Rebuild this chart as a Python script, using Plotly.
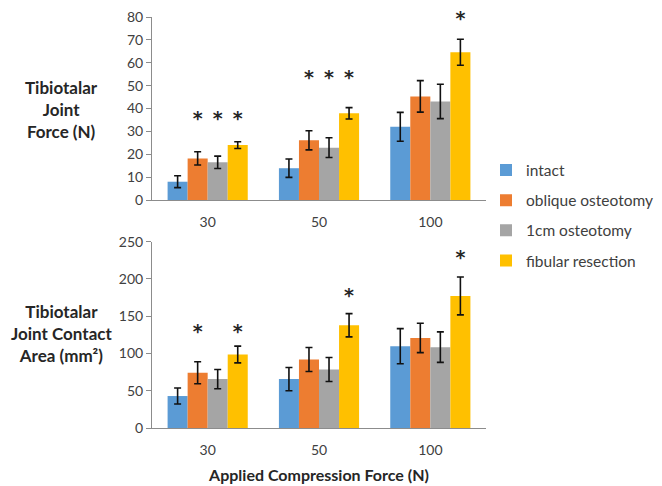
import plotly.graph_objects as go

categories = ["30", "50", "100"]
series_names = ["intact", "oblique osteotomy", "1cm osteotomy", "fibular resection"]
colors = ["#5B9BD5", "#ED7D31", "#A5A5A5", "#FFC000"]

# Tibiotalar joint force (N)
force_means = [
    [8.0, 13.9, 32.0],
    [18.2, 26.1, 45.3],
    [16.5, 22.9, 43.1],
    [24.0, 37.9, 64.6],
]
force_err = [
    [2.6, 4.0, 6.3],
    [2.9, 4.2, 6.9],
    [2.7, 4.3, 7.5],
    [1.5, 2.5, 5.7],
]
force_sig = [
    [False, False, False],
    [True, True, False],
    [True, True, False],
    [True, True, True],
]
force_star_level = [34.7, 52.6, 78.4]

# Tibiotalar joint contact area (mm2)
area_means = [
    [42.9, 65.6, 109.8],
    [74.1, 91.9, 120.9],
    [65.6, 78.5, 108.5],
    [98.6, 137.9, 177.2],
]
area_err = [
    [10.7, 15.6, 23.6],
    [14.7, 16.1, 19.7],
    [12.9, 16.1, 20.5],
    [11.2, 15.6, 25.4],
]
area_sig = [
    [False, False, False],
    [True, False, False],
    [False, False, False],
    [True, True, True],
]
area_star_level = [127, 175.5, 226]

FONT = "Lato"
TXT = "#404040"
AX = "#8C8C8C"

fig = go.Figure()

def add_panel(means, errs, sigs, levels, xa, ya, legend):
    for i, name in enumerate(series_names):
        fig.add_trace(go.Bar(
            x=categories, y=means[i], name=name,
            marker=dict(color=colors[i], line=dict(width=0)),
            error_y=dict(type="data", array=errs[i], color="#111111",
                         thickness=1.6, width=3.5),
            offsetgroup=str(i), legendgroup=str(i), showlegend=legend,
            xaxis=xa, yaxis=ya,
        ))
        ys = [levels[j] if sigs[i][j] else None for j in range(len(categories))]
        fig.add_trace(go.Scatter(
            x=categories, y=ys, mode="text", text=["<b>*</b>"] * len(categories),
            textfont=dict(family="DejaVu Sans", size=19, color="#262626"),
            textposition="middle center", cliponaxis=False,
            offsetgroup=str(i), showlegend=False, hoverinfo="skip",
            xaxis=xa, yaxis=ya,
        ))

add_panel(force_means, force_err, force_sig, force_star_level, "x", "y", True)
add_panel(area_means, area_err, area_sig, area_star_level, "x2", "y2", False)

xcommon = dict(type="category", showline=True, linecolor=AX, linewidth=1,
               ticks="", showgrid=False, zeroline=False,
               tickfont=dict(family=FONT, size=14, color=TXT),
               ticklabelstandoff=9)
ycommon = dict(showline=True, linecolor=AX, linewidth=1, ticks="outside",
               ticklen=5, tickcolor=AX, showgrid=False, zeroline=False,
               tickfont=dict(family=FONT, size=14, color=TXT))

fig.update_layout(
    width=662, height=486,
    margin=dict(l=152, r=176, t=17, b=58, autoexpand=False),
    paper_bgcolor="white", plot_bgcolor="white",
    barmode="group", bargap=0.28, bargroupgap=0,
    scattermode="group", scattergap=0.28,
    font=dict(family=FONT, color=TXT),
    xaxis=dict(**xcommon, domain=[0, 1], anchor="y"),
    yaxis=dict(**ycommon, domain=[0.5547, 1], range=[0, 80], dtick=10, anchor="x"),
    xaxis2=dict(**xcommon, domain=[0, 1], anchor="y2",
                title=dict(text="<b>Applied Compression Force (N)</b>",
                           font=dict(family=FONT, size=16, color="#262626"),
                           standoff=13)),
    yaxis2=dict(**ycommon, domain=[0, 0.4533], range=[0, 250], dtick=50, anchor="x2"),
    legend=dict(x=1.0, y=0.668, xanchor="left", yanchor="top",
                font=dict(family=FONT, size=15.5, color=TXT),
                tracegroupgap=7, bgcolor="rgba(0,0,0,0)"),
    showlegend=True,
)

fig.add_annotation(text="<b>Tibiotalar<br>Joint<br>Force (N)</b>",
                   xref="paper", yref="paper", x=-0.27, y=0.776,
                   xanchor="center", yanchor="middle", showarrow=False,
                   font=dict(family=FONT, size=17, color="#262626"))
fig.add_annotation(text="<b>Tibiotalar<br>Joint Contact<br>Area (mm²)</b>",
                   xref="paper", yref="paper", x=-0.27, y=0.229,
                   xanchor="center", yanchor="middle", showarrow=False,
                   font=dict(family=FONT, size=17, color="#262626"))

fig.write_html("out.html", config={"displayModeBar": False},
               post_script="document.body.style.margin='0';")
